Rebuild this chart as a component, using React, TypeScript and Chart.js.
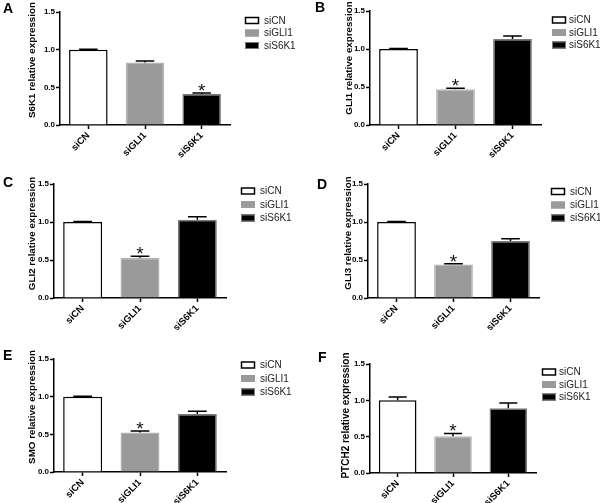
import React, { useEffect, useRef } from 'react';
import { Chart, registerables } from 'chart.js';

Chart.register(...registerables);

const FONT = '"Liberation Sans", Arial, Helvetica, sans-serif';

// ---- data ----
const categories = ['siCN', 'siGLI1', 'siS6K1'];
const panelLetters = ['A', 'B', 'C', 'D', 'E', 'F'];
const yTitles = [
  'S6K1 relative expression',
  'GLI1 relative expression',
  'GLI2 relative expression',
  'GLI3 relative expression',
  'SMO relative expression',
  'PTCH2 relative expression',
];
const valuesA = [1.0, 0.83, 0.41];
const errorsA = [0.005, 0.02, 0.015];
const valuesB = [1.0, 0.47, 1.13];
const errorsB = [0.005, 0.015, 0.04];
const valuesC = [1.0, 0.53, 1.03];
const errorsC = [0.005, 0.02, 0.04];
const valuesD = [1.0, 0.44, 0.75];
const errorsD = [0.005, 0.01, 0.03];
const valuesE = [1.0, 0.525, 0.77];
const errorsE = [0.005, 0.02, 0.035];
const valuesF = [1.0, 0.505, 0.89];
const errorsF = [0.045, 0.04, 0.075];
const starIndex = [2, 1, 1, 1, 1, 1];
const yMin = 0;
const yMax = 1.5;
const yStep = 0.5;

const allValues = [valuesA, valuesB, valuesC, valuesD, valuesE, valuesF];
const allErrors = [errorsA, errorsB, errorsC, errorsD, errorsE, errorsF];

// ---- styles / layout ----
const barFill = ['#ffffff', '#9a9a9a', '#000000'];
const barStroke = ['#000000', '#b4b4b4', '#7a7a7a'];

type Layout = {
  x: number; y: number; w: number; h: number;
  area: { l: number; r: number; t: number; b: number };
  title: { x: number; y: number; size: number };
  legend: { x: number; tx: number; rows: number[] };
  letter: { x: number; y: number };
};

const layouts: Layout[] = [
  { x: 0, y: 0, w: 300, h: 165, area: { l: 60, r: 230, t: 12, b: 125 }, title: { x: 32, y: 60, size: 9.8 }, legend: { x: 245, tx: 264, rows: [20.5, 33, 45.5] }, letter: { x: 3, y: 13 } },
  { x: 300, y: 0, w: 300, h: 165, area: { l: 70, r: 241, t: 11, b: 125 }, title: { x: 49, y: 58, size: 9.8 }, legend: { x: 252, tx: 269, rows: [20, 32.5, 45] }, letter: { x: 15, y: 12 } },
  { x: 0, y: 165, w: 300, h: 165, area: { l: 54, r: 226, t: 19, b: 133 }, title: { x: 32, y: 68.5, size: 9.8 }, legend: { x: 241, tx: 260, rows: [26, 39.5, 53] }, letter: { x: 3, y: 22 } },
  { x: 300, y: 165, w: 300, h: 165, area: { l: 68, r: 239, t: 19, b: 133 }, title: { x: 48, y: 68, size: 9.8 }, legend: { x: 251, tx: 270, rows: [26.5, 40, 53] }, letter: { x: 17, y: 24 } },
  { x: 0, y: 330, w: 300, h: 173, area: { l: 54, r: 226, t: 29, b: 142 }, title: { x: 32, y: 77, size: 9.8 }, legend: { x: 241, tx: 260, rows: [35, 48.5, 62] }, letter: { x: 3, y: 30 } },
  { x: 300, y: 330, w: 300, h: 173, area: { l: 70, r: 236, t: 34, b: 143 }, title: { x: 46, y: 85.5, size: 10 }, legend: { x: 242, tx: 259, rows: [42, 54.5, 67] }, letter: { x: 18, y: 32 } },
];

function makePlugins(idx: number) {
  const L = layouts[idx];
  const errors = allErrors[idx];
  const star = starIndex[idx];
  const errPlugin = {
    id: 'errbars' + idx,
    afterDatasetsDraw(chart: any) {
      const ctx = chart.ctx;
      const meta = chart.getDatasetMeta(0);
      const ys = chart.scales.y;
      const data = chart.data.datasets[0].data as number[];
      errors.forEach((e, i) => {
        const bar = meta.data[i] as any;
        const v = data[i];
        const yv = ys.getPixelForValue(v);
        const yTop = ys.getPixelForValue(v + e);
        const half = bar.width * 0.24;
        ctx.save();
        ctx.strokeStyle = '#000';
        ctx.lineWidth = 1.5;
        ctx.beginPath();
        ctx.moveTo(bar.x, yv);
        ctx.lineTo(bar.x, yTop);
        ctx.moveTo(bar.x - half, yTop);
        ctx.lineTo(bar.x + half, yTop);
        ctx.stroke();
        if (i === star) {
          ctx.font = `19px ${FONT}`;
          ctx.textAlign = 'center';
          ctx.textBaseline = 'alphabetic';
          ctx.fillStyle = '#111';
          ctx.fillText('*', bar.x, yTop + 4);
        }
        ctx.restore();
      });
    },
  };
  const decorPlugin = {
    id: 'decor' + idx,
    afterDraw(chart: any) {
      const ctx = chart.ctx;
      ctx.save();
      // panel letter
      ctx.fillStyle = '#000';
      ctx.font = `bold 14px ${FONT}`;
      ctx.textAlign = 'left';
      ctx.textBaseline = 'alphabetic';
      ctx.fillText(panelLetters[idx], L.letter.x, L.letter.y);
      // y title
      ctx.save();
      ctx.translate(L.title.x, L.title.y);
      ctx.rotate(-Math.PI / 2);
      ctx.font = `bold ${L.title.size}px ${FONT}`;
      ctx.textAlign = 'center';
      ctx.textBaseline = 'middle';
      ctx.fillText(yTitles[idx], 0, 0);
      ctx.restore();
      // legend
      categories.forEach((c, i) => {
        const ry = L.legend.rows[i];
        ctx.fillStyle = barFill[i];
        ctx.fillRect(L.legend.x, ry - 3.5, 14, 7);
        ctx.strokeStyle = i === 1 ? barFill[1] : barStroke[i];
        ctx.lineWidth = i === 0 ? 1.5 : 1;
        ctx.strokeRect(L.legend.x + 0.5, ry - 3, 13, 6);
        ctx.fillStyle = '#222';
        ctx.font = `10px ${FONT}`;
        ctx.textAlign = 'left';
        ctx.textBaseline = 'middle';
        ctx.fillText(c, L.legend.tx, ry + 0.5);
      });
      ctx.restore();
    },
  };
  return [errPlugin, decorPlugin];
}

function Panel({ idx }: { idx: number }) {
  const ref = useRef<HTMLCanvasElement | null>(null);
  const L = layouts[idx];
  useEffect(() => {
    if (!ref.current) return;
    const chart = new Chart(ref.current, {
      type: 'bar',
      data: {
        labels: categories,
        datasets: [
          {
            data: allValues[idx],
            backgroundColor: barFill,
            borderColor: barStroke,
            borderWidth: 1.5,
            barPercentage: 0.68,
            categoryPercentage: 1,
          },
        ],
      },
      options: {
        responsive: false,
        animation: false,
        devicePixelRatio: 1,
        layout: { padding: { left: 0, top: L.area.t, right: L.w - L.area.r, bottom: 0 } },
        plugins: { legend: { display: false }, tooltip: { enabled: false } },
        scales: {
          x: {
            offset: true,
            grid: { display: true, drawOnChartArea: false, offset: false, tickLength: 4, tickWidth: 1.5, tickColor: '#000' },
            border: { display: true, color: '#000', width: 1.5 },
            ticks: {
              maxRotation: 45,
              minRotation: 45,
              padding: 1,
              color: '#000',
              font: { family: FONT, size: 9.5, weight: 'bold' },
            },
            afterFit: (s: any) => { s.height = L.h - L.area.b; },
          },
          y: {
            min: yMin,
            max: yMax,
            ticks: {
              stepSize: yStep,
              padding: 1,
              color: '#000',
              font: { family: FONT, size: 8, weight: 'bold' },
              callback: (v: any) => Number(v).toFixed(1),
            },
            grid: { display: true, drawOnChartArea: false, tickLength: 4, tickWidth: 1.5, tickColor: '#000' },
            border: { display: true, color: '#000', width: 1.5 },
            afterFit: (s: any) => { s.width = L.area.l; },
          },
        },
      } as any,
      plugins: makePlugins(idx) as any,
    });
    return () => chart.destroy();
  }, [idx]);
  return (
    <canvas
      ref={ref}
      width={L.w}
      height={L.h}
      style={{ position: 'absolute', left: L.x, top: L.y, width: L.w, height: L.h }}
    />
  );
}

export default function App() {
  return (
    <div style={{ position: 'absolute', left: 0, top: 0, width: 600, height: 503, background: '#fff' }}>
      {layouts.map((_, i) => (
        <Panel key={i} idx={i} />
      ))}
    </div>
  );
}
